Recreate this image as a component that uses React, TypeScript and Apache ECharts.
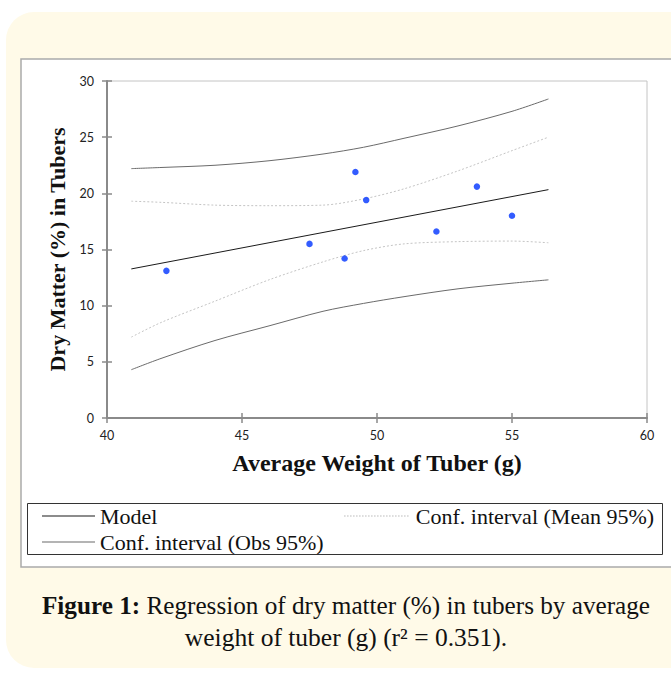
import React, { useEffect, useRef } from "react";
import * as echarts from "echarts";

// ---- data ----
const xTicks = [40, 45, 50, 55, 60];
const yTicks = [0, 5, 10, 15, 20, 25, 30];

const avgWeight = [42.2, 47.5, 48.8, 49.2, 49.6, 52.2, 53.7, 55.0];
const dryMatter = [13.1, 15.5, 14.2, 21.9, 19.4, 16.6, 20.6, 18.0];

const modelX = [40.9, 56.35];
const modelY = [13.27, 20.33];

const curveX = [40.9, 42, 44, 46, 48, 49.5, 51, 53, 55, 56.35];
const meanUpper = [19.3, 19.2, 18.95, 18.9, 18.95, 19.5, 20.4, 22.0, 23.8, 25.0];
const meanLower = [7.2, 8.5, 10.4, 12.3, 13.9, 14.9, 15.5, 15.7, 15.75, 15.6];
const obsUpper = [22.2, 22.3, 22.5, 22.9, 23.5, 24.1, 24.9, 26.0, 27.3, 28.4];
const obsLower = [4.3, 5.3, 6.9, 8.2, 9.5, 10.2, 10.8, 11.5, 12.0, 12.3];

const NAME_MODEL = "Model";
const NAME_MEAN = "Conf. interval (Mean 95%)";
const NAME_OBS = "Conf. interval (Obs 95%)";

const SERIF = "'Liberation Serif', 'Times New Roman', serif";
const SANS = "Lato, 'Liberation Sans', sans-serif";

const pairs = (xs: number[], ys: number[]) => xs.map((x, i) => [x, ys[i]]);

// legend icon shapes (style only)
const SOLID_ICON = "path://M0,0h60v1h-60z";
const DOTTED_ICON =
  "path://" + Array.from({ length: 22 }, (_, i) => `M${i * 3},0h1.6v1h-1.6z`).join("");

export default function App() {
  const ref = useRef<HTMLDivElement>(null);

  useEffect(() => {
    document.body.style.margin = "0";
    const chart = echarts.init(ref.current!, null, { renderer: "svg" });

    const legendText = { fontFamily: SERIF, fontSize: 22, color: "#111" };
    const axisColor = "#8a8a8a";
    const legendBase = { padding: 0, itemHeight: 1, textStyle: legendText };

    const option: any = {
      animation: false,
      graphic: [
        { type: "rect", z: -20, shape: { x: 6, y: 12, width: 720, height: 656, r: 28 }, style: { fill: "#fffae8" } },
        { type: "rect", z: -10, shape: { x: 21, y: 59, width: 700, height: 508 }, style: { fill: "#ffffff", stroke: "#ababab", lineWidth: 1.5 } },
        { type: "rect", z: -5, shape: { x: 27.5, y: 503.5, width: 635, height: 51 }, style: { fill: "#ffffff", stroke: "#333333", lineWidth: 1 } },
        {
          type: "text", x: 346, y: 605,
          style: {
            text: "{b|Figure 1:}{n| Regression of dry matter (%) in tubers by average}",
            align: "center", verticalAlign: "middle",
            rich: {
              b: { fontFamily: SERIF, fontSize: 25.2, fontWeight: "bold", fill: "#111" },
              n: { fontFamily: SERIF, fontSize: 25.2, fill: "#111" },
            },
          },
        },
        {
          type: "text", x: 346, y: 637,
          style: { text: "weight of tuber (g) (r² = 0.351).", align: "center", verticalAlign: "middle", fontFamily: SERIF, fontSize: 25.5, fill: "#111" },
        },
      ],
      legend: [
        { ...legendBase, data: [NAME_MODEL], left: 42, top: 505, itemWidth: 53, icon: SOLID_ICON },
        { ...legendBase, data: [NAME_MEAN], left: 344, top: 505, itemWidth: 69, icon: DOTTED_ICON },
        { ...legendBase, data: [NAME_OBS], left: 42, top: 531, itemWidth: 53, icon: SOLID_ICON },
      ],
      grid: { left: 107, right: 24, top: 81, bottom: 263, show: true, borderColor: "#c4c4c4", borderWidth: 1 },
      xAxis: [
        {
          type: "value", min: xTicks[0], max: xTicks[xTicks.length - 1], interval: xTicks[1] - xTicks[0], position: "bottom",
          axisLine: { show: true, onZero: false, lineStyle: { color: axisColor, width: 2 } },
          axisTick: { show: true, length: 5, lineStyle: { color: axisColor, width: 1.5 } },
          axisLabel: { margin: 11, fontFamily: SANS, fontSize: 12.5, color: "#222" },
          splitLine: { show: false },
          name: "Average Weight of Tuber (g)", nameLocation: "middle", nameGap: 33,
          nameTextStyle: { fontFamily: SERIF, fontWeight: "bold", fontSize: 24, color: "#111" },
        },
        {
          type: "value", min: xTicks[0], max: xTicks[xTicks.length - 1], interval: xTicks[1] - xTicks[0], position: "bottom",
          axisLine: { show: false },
          axisTick: { show: true, inside: true, length: 5, lineStyle: { color: axisColor, width: 1.5 } },
          axisLabel: { show: false }, splitLine: { show: false },
        },
      ],
      yAxis: [
        {
          type: "value", min: yTicks[0], max: yTicks[yTicks.length - 1], interval: yTicks[1] - yTicks[0], position: "left",
          axisLine: { show: true, onZero: false, lineStyle: { color: axisColor, width: 2 } },
          axisTick: { show: true, length: 5, lineStyle: { color: axisColor, width: 1.5 } },
          axisLabel: { margin: 13, fontFamily: SANS, fontSize: 12.5, color: "#222" },
          splitLine: { show: false },
          name: "Dry Matter (%) in Tubers", nameLocation: "middle", nameGap: 33,
          nameTextStyle: { fontFamily: SERIF, fontWeight: "bold", fontSize: 22, color: "#111" },
        },
        {
          type: "value", min: yTicks[0], max: yTicks[yTicks.length - 1], interval: yTicks[1] - yTicks[0], position: "left",
          axisLine: { show: false },
          axisTick: { show: true, inside: true, length: 5, lineStyle: { color: axisColor, width: 1.5 } },
          axisLabel: { show: false }, splitLine: { show: false },
        },
      ],
      series: [
        { name: NAME_OBS, type: "line", data: pairs(curveX, obsUpper), smooth: 0.3, symbol: "none", lineStyle: { color: "#6a6a6a", width: 1 }, itemStyle: { color: "#6a6a6a" }, z: 2 },
        { name: NAME_OBS, type: "line", data: pairs(curveX, obsLower), smooth: 0.3, symbol: "none", lineStyle: { color: "#6a6a6a", width: 1 }, itemStyle: { color: "#6a6a6a" }, z: 2 },
        { name: NAME_MEAN, type: "line", data: pairs(curveX, meanUpper), smooth: 0.3, symbol: "none", lineStyle: { color: "#c4c4c4", width: 1, type: [2, 2] }, itemStyle: { color: "#bdbdbd" }, z: 2 },
        { name: NAME_MEAN, type: "line", data: pairs(curveX, meanLower), smooth: 0.3, symbol: "none", lineStyle: { color: "#c4c4c4", width: 1, type: [2, 2] }, itemStyle: { color: "#bdbdbd" }, z: 2 },
        { name: NAME_MODEL, type: "line", data: pairs(modelX, modelY), symbol: "none", lineStyle: { color: "#1a1a1a", width: 1 }, itemStyle: { color: "#1a1a1a" }, z: 3 },
        { name: "Observations", type: "scatter", data: pairs(avgWeight, dryMatter), symbol: "circle", symbolSize: 6.5, itemStyle: { color: "#0033ff" }, z: 4 },
      ],
    };

    chart.setOption(option);
    return () => chart.dispose();
  }, []);

  return <div ref={ref} style={{ position: "fixed", left: 0, top: 0, width: 671, height: 681, background: "#ffffff" }} />;
}
